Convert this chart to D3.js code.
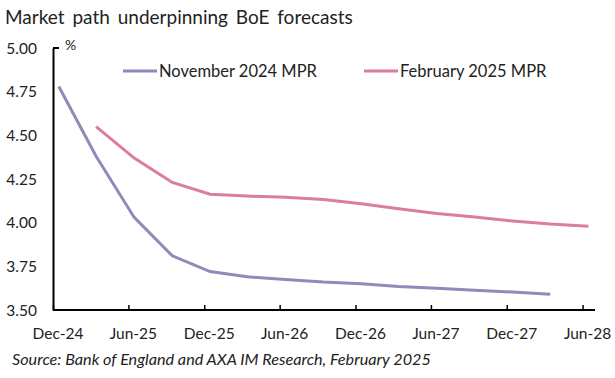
<!DOCTYPE html>
<html><head><meta charset="utf-8">
<script src="https://cdn.jsdelivr.net/npm/d3@7"></script>
<style>body{margin:0;background:#fff}svg{display:block}text{font-family:Lato,"Open Sans",sans-serif;fill:#222}</style>
</head><body><svg id="c" width="615" height="378"></svg>
<script>
const novDates = ["2024-12-15","2025-03-15","2025-06-15","2025-09-15","2025-12-15","2026-03-15","2026-06-15","2026-09-15","2026-12-15","2027-03-15","2027-06-15","2027-09-15","2027-12-15","2028-03-15"];
const novValues = [4.78,4.38,4.03,3.81,3.72,3.69,3.675,3.66,3.65,3.635,3.625,3.613,3.603,3.59];
const febDates = ["2025-03-15","2025-06-15","2025-09-15","2025-12-15","2026-03-15","2026-06-15","2026-09-15","2026-12-15","2027-03-15","2027-06-15","2027-09-15","2027-12-15","2028-03-15","2028-06-15"];
const febValues = [4.55,4.37,4.23,4.163,4.152,4.145,4.133,4.108,4.08,4.053,4.032,4.01,3.992,3.98];
const xTickDates = ["2024-12-01","2025-06-01","2025-12-01","2026-06-01","2026-12-01","2027-06-01","2027-12-01","2028-06-01"];
const xTickLabels = ["Dec-24","Jun-25","Dec-25","Jun-26","Dec-26","Jun-27","Dec-27","Jun-28"];
const yTicks = [3.5,3.75,4.0,4.25,4.5,4.75,5.0];
const seriesNames = ["November 2024 MPR","February 2025 MPR"];
const colors = ["#8e8aba","#db7d9e"];

const svg = d3.select("#c");
const p = d3.timeParse("%Y-%m-%d");
const x = d3.scaleTime().domain([p("2024-12-01"), p("2028-07-01")]).range([53, 595]);
const y = d3.scaleLinear().domain([3.5, 5]).range([310, 48]);

svg.append("text").attr("x",5).attr("y",24).attr("font-size",19).attr("word-spacing",3).text("Market path underpinning BoE forecasts");

// y labels
svg.append("g").selectAll("text").data(yTicks).join("text")
  .attr("x",37).attr("y",d=>y(d)).attr("dy","0.36em").attr("text-anchor","end")
  .attr("font-size",15.5).text(d3.format(".2f"));
svg.append("text").attr("x",65).attr("y",50).attr("font-size",14).text("%");

// axes
const xAxis = d3.axisBottom(x).tickValues(xTickDates.map(p)).tickSize(-5).tickFormat("");
const gx = svg.append("g").attr("transform","translate(0,310)").call(xAxis);
gx.select(".domain").attr("stroke","#000").attr("stroke-width",2).attr("d","M53,0H595");
gx.selectAll(".tick line").attr("stroke","#000").attr("stroke-width",1.5);
gx.selectAll(".tick text").remove();
svg.append("g").selectAll("text").data(xTickDates).join("text")
  .attr("x",d=>x(p(d))+5).attr("y",339).attr("text-anchor","middle").attr("font-size",15.5)
  .text((d,i)=>xTickLabels[i]);

const yAxis = d3.axisLeft(y).tickValues([]).tickSizeOuter(0);
const gy = svg.append("g").attr("transform","translate(53,0)").call(yAxis);
gy.select(".domain").attr("stroke","#000").attr("stroke-width",2);
svg.append("line").attr("x1",53).attr("x2",59).attr("y1",y(5)).attr("y2",y(5)).attr("stroke","#000").attr("stroke-width",2);

// lines
const line = d3.line().x(d=>x(d[0])).y(d=>y(d[1]));
const series = [novDates.map((d,i)=>[p(d),novValues[i]]), febDates.map((d,i)=>[p(d),febValues[i]])];
series.forEach((s,i)=>{
  svg.append("path").datum(s).attr("fill","none").attr("stroke",colors[i]).attr("stroke-width",3).attr("d",line);
});

// legend
const legX = [123, 364];
seriesNames.forEach((n,i)=>{
  svg.append("line").attr("x1",legX[i]).attr("x2",legX[i]+34).attr("y1",71).attr("y2",71).attr("stroke",colors[i]).attr("stroke-width",3);
  svg.append("text").attr("x",legX[i]+36).attr("y",76.5).attr("font-size",16.5).text(n);
});

svg.append("text").attr("x",12).attr("y",365).attr("font-size",16.2).attr("font-style","italic")
  .text("Source: Bank of England and AXA IM Research, February 2025");
</script></body></html>
